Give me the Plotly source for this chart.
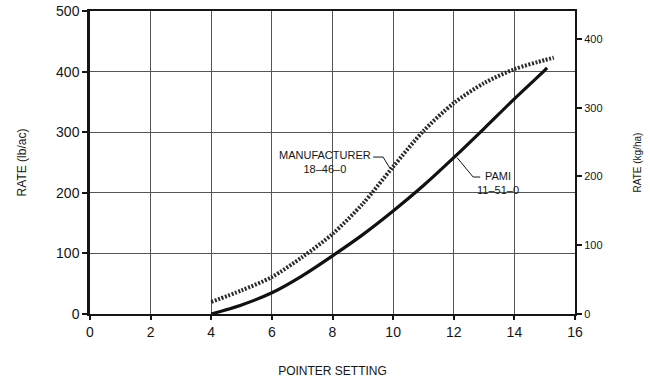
import plotly.graph_objects as go

# Data
pointer_mfr = [4, 5, 6, 7, 8, 9, 10, 11, 12, 13, 14, 15, 15.3]
rate_mfr = [20, 39, 61, 94, 132, 182, 243, 302, 348, 381, 404, 419, 423]

pointer_pami = [4, 5, 6, 7, 8, 9, 10, 11, 12, 13, 14, 15, 15.08]
rate_pami = [0, 15, 35, 63, 96, 131, 170, 212, 258, 306, 355, 402, 406]

x_ticks = [0, 2, 4, 6, 8, 10, 12, 14, 16]
y_ticks = [0, 100, 200, 300, 400, 500]
y2_ticks = [0, 100, 200, 300, 400]

FONT = "Liberation Sans, Arial, Helvetica, sans-serif"
INK = "#151515"

fig = go.Figure()

fig.add_trace(go.Scatter(
    x=pointer_mfr, y=rate_mfr, mode="lines",
    line=dict(color="#2a2a2a", width=4, dash="2px,1.6px", shape="spline", smoothing=0.8),
    showlegend=False, hoverinfo="skip"))

fig.add_trace(go.Scatter(
    x=pointer_pami, y=rate_pami, mode="lines",
    line=dict(color="#111111", width=3.2, shape="spline", smoothing=0.8),
    showlegend=False, hoverinfo="skip"))

# invisible trace to activate secondary axis
fig.add_trace(go.Scatter(x=[0], y=[0], yaxis="y2", mode="markers",
                         marker=dict(opacity=0), showlegend=False, hoverinfo="skip"))

# Leader lines for labels
fig.add_shape(type="path", xref="x", yref="y",
              path="M 9.34 259 L 9.67 259 L 9.9 240",
              line=dict(color=INK, width=1))
fig.add_shape(type="path", xref="x", yref="y",
              path="M 12.11 258 L 12.64 226 L 12.87 226",
              line=dict(color=INK, width=1))

fig.add_annotation(x=7.75, y=251, xref="x", yref="y", showarrow=False,
                   text="MANUFACTURER<br>18\u201346\u20130",
                   font=dict(family=FONT, size=11, color=INK),
                   align="center", xanchor="center", yanchor="middle")
fig.add_annotation(x=13.45, y=217, xref="x", yref="y", showarrow=False,
                   text="PAMI<br>11\u201351\u20130",
                   font=dict(family=FONT, size=11, color=INK),
                   align="center", xanchor="center", yanchor="middle")

fig.update_layout(
    width=650, height=379,
    margin=dict(l=90, r=75, t=11, b=65, autoexpand=False),
    paper_bgcolor="white", plot_bgcolor="white",
    font=dict(family=FONT, color=INK),
    xaxis=dict(
        range=[0, 16], tickvals=x_ticks, ticktext=[str(v) for v in x_ticks],
        showgrid=True, gridcolor="#555555", gridwidth=1,
        showline=True, linecolor=INK, linewidth=2, mirror=True,
        ticks="outside", ticklen=4, tickcolor=INK, tickwidth=1.5,
        tickfont=dict(size=14, color=INK), zeroline=False, automargin=False,
        title=dict(text="POINTER SETTING", font=dict(size=12, color=INK), standoff=28),
    ),
    yaxis=dict(
        range=[0, 500], tickvals=y_ticks, ticktext=[str(v) for v in y_ticks],
        showgrid=True, gridcolor="#555555", gridwidth=1,
        showline=True, linecolor=INK, linewidth=2.5,
        ticks="outside", ticklen=5, tickcolor=INK, tickwidth=1.5,
        tickfont=dict(size=14, color=INK), zeroline=False, automargin=False,
        title=dict(text="RATE (lb/ac)", font=dict(size=12, color=INK), standoff=27),
    ),
    yaxis2=dict(
        overlaying="y", side="right", range=[0, 440.7],
        tickvals=y2_ticks, ticktext=[str(v) for v in y2_ticks],
        showgrid=False, zeroline=False, automargin=False,
        showline=True, linecolor=INK, linewidth=2,
        ticks="outside", ticklen=5, tickcolor=INK, tickwidth=1.5,
        tickfont=dict(size=11, color=INK),
        title=dict(text="RATE (kg/ha)", font=dict(size=10, color=INK), standoff=32),
    ),
)

fig.write_html("out.html", config={"displayModeBar": False},
               post_script="document.body.style.margin='0';")
